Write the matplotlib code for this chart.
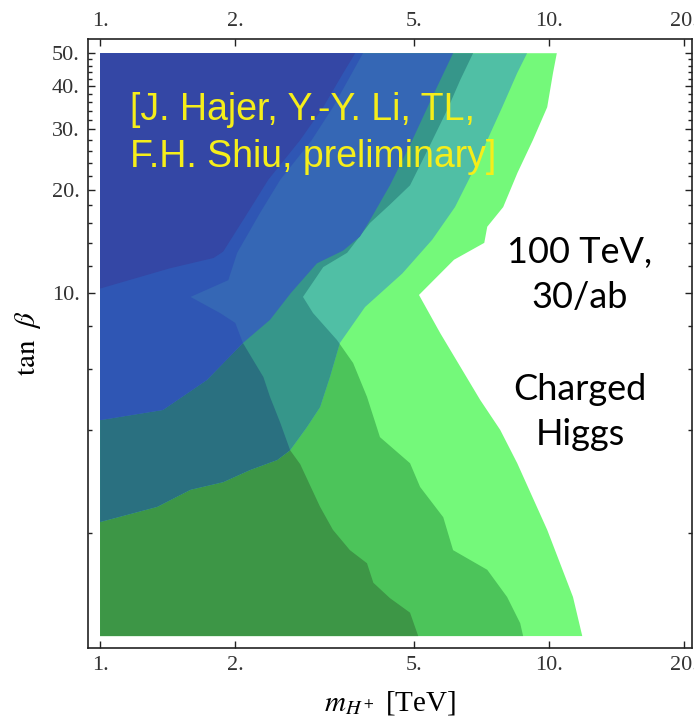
import matplotlib
matplotlib.use("Agg")
import matplotlib.pyplot as plt
from matplotlib.ticker import FixedLocator, NullFormatter, NullLocator

# contour boundaries, (m_H+ [TeV], tan beta), top to bottom
# outer edge of the green family (white beyond it)
g1_m = [10.4, 10.2, 9.9, 9.2, 8.5, 7.9, 7.28, 7.17, 6.14, 5.13, 5.72, 7.02, 7.78, 8.49, 9.9, 11.3, 11.85]
g1_t = [50, 43.8, 34.8, 27.9, 22.4, 17.8, 15.6, 14.0, 12.5, 9.87, 7.64, 4.88, 3.99, 3.19, 2.04, 1.30, 1.0]
# middle green level
g2_m = [6.77, 6.34, 5.93, 5.43, 4.90, 4.42, 3.99, 3.55, 3.14, 2.83, 2.98, 3.37, 3.66, 3.93, 4.20, 4.90,
        5.16, 5.81, 6.11, 7.28, 8.06, 8.62, 8.75]
g2_t = [50, 41.8, 34.2, 27.0, 20.6, 18.1, 16.0, 13.1, 11.9, 9.74, 8.74, 7.29, 6.25, 4.98, 3.80, 3.19,
        2.72, 2.22, 1.78, 1.56, 1.30, 1.09, 1.0]
# inner green level (right edge)
g3_m = [2.08, 2.31, 2.39, 2.52, 2.65, 2.79, 3.09, 3.30, 3.60, 3.93, 4.06, 4.42, 4.90, 5.11]
g3_t = [7.15, 5.69, 4.98, 4.18, 3.48, 3.17, 2.38, 2.04, 1.78, 1.63, 1.43, 1.29, 1.17, 1.0]
# upper-left edge of the green family
edge_m = [6.11, 5.52, 4.90, 4.42, 3.99, 3.79, 3.48, 3.04, 2.66, 2.39, 2.08, 1.73, 1.38, 1.0]
edge_t = [50, 37.8, 27.0, 20.6, 16.3, 14.6, 13.3, 12.2, 10.0, 8.35, 7.15, 5.58, 4.56, 4.26]
# blue family: outer, middle, inner levels
b1_m = [8.93, 8.49, 7.86, 7.28, 6.74, 6.17, 5.49, 4.71, 3.89, 3.42, 3.25, 3.09, 2.89, 2.65, 2.48,
        2.16, 1.88, 1.59, 1.34, 1.0]
b1_t = [50, 43.8, 34.8, 27.9, 22.4, 17.8, 14.3, 11.4, 9.10, 7.15, 5.69, 4.65, 4.07, 3.48, 3.26,
        3.05, 2.81, 2.67, 2.38, 2.15]
b2_m = [3.85, 3.64, 3.30, 2.96, 2.52, 2.27, 2.02, 1.93, 1.59, 1.85, 2.00, 2.08]
b2_t = [50, 43.8, 34.8, 27.9, 21.4, 17.1, 13.1, 10.9, 9.74, 8.74, 8.18, 7.15]
b3_m = [3.70, 3.48, 3.14, 2.79, 2.37, 2.13, 1.88, 1.79, 1.43, 1.0]
b3_t = [50, 43.8, 34.8, 27.9, 21.4, 17.1, 13.2, 12.65, 11.8, 10.3]

m_min, t_min, t_max = 1.0, 1.0, 50.0

x_ticks = [1, 2, 5, 10, 20]
x_labels = ["1.", "2.", "5.", "10.", "20."]
y_ticks = [10, 20, 30, 40, 50]
y_labels = ["10.", "20.", "30.", "40.", "50."]
y_minor = [2, 4, 6, 8, 12, 14, 16, 18, 22, 24, 26, 28, 32, 34, 36, 38, 42, 44, 46, 48]

plt.rcParams["font.family"] = "serif"
plt.rcParams["font.serif"] = ["Liberation Serif", "DejaVu Serif"]
plt.rcParams["mathtext.fontset"] = "stix"

fig = plt.figure(figsize=(6.94, 7.22), dpi=100)
ax = fig.add_axes([88 / 694, 1 - 648 / 722, 604 / 694, 609 / 722])
ax.set_xscale("log")
ax.set_yscale("log")
ax.set_xlim(0.94, 20.8)
ax.set_ylim(0.923, 55.0)

# polygons
g1_poly = ([m_min] + g1_m + [m_min], [t_max] + g1_t + [t_min])
g2_poly = ([m_min] + g2_m + [m_min], [t_max] + g2_t + [t_min])
g3_poly = ([m_min] + edge_m[-1:-5:-1] + g3_m[1:], [t_min] + edge_t[-1:-5:-1] + g3_t[1:])
blue_poly = ([m_min] + edge_m, [t_max] + edge_t)
b2_poly = ([m_min] + b2_m + edge_m[-3:], [t_max] + b2_t + edge_t[-3:])
b3_poly = ([m_min] + b3_m, [t_max] + b3_t)
b1_poly = ([m_min] + b1_m, [t_max] + b1_t)

greens = ["#74f97a", "#4cc45a", "#3d9646"]
teals = ["#50bfa5", "#36968a", "#2a7080"]

for poly, c in zip([g1_poly, g2_poly, g3_poly], greens):
    ax.fill(*poly, color=c, lw=0)

clip = ax.fill(*b1_poly, facecolor="none", edgecolor="none")[0]
for poly, c in zip([g1_poly, g2_poly, g3_poly], teals):
    p = ax.fill(*poly, color=c, lw=0)[0]
    p.set_clip_path(clip)

ax.fill(*blue_poly, color="#3567b5", lw=0)
ax.fill(*b2_poly, color="#2f56b4", lw=0)
ax.fill(*b3_poly, color="#3447a5", lw=0)

# axes
ax.xaxis.set_major_locator(FixedLocator(x_ticks))
ax.xaxis.set_minor_locator(NullLocator())
ax.set_xticklabels(x_labels)
ax.yaxis.set_major_locator(FixedLocator(y_ticks))
ax.set_yticklabels(y_labels)
ax.yaxis.set_minor_locator(FixedLocator(y_minor))
ax.yaxis.set_minor_formatter(NullFormatter())
ax.tick_params(which="both", direction="in", top=True, right=True, labeltop=True,
               labelsize=16, labelcolor="#333333", color="#222222", width=1)
ax.tick_params(which="major", length=5)
ax.tick_params(which="minor", length=3)
ax.tick_params(axis="x", pad=6)
ax.tick_params(axis="y", pad=6)
for s in ax.spines.values():
    s.set_color("#222222")
    s.set_linewidth(1.2)

ax.set_xlabel(r"$m_{H^+}$ [TeV]", fontsize=21, labelpad=10)
ax.set_ylabel(r"$\tan\;\,\beta$", fontsize=21, labelpad=6)

fig.text(130 / 694, 1 - 167 / 722, "[J. Hajer, Y.-Y. Li, TL,\nF.H. Shiu, preliminary]",
         color="#f5ee1a", fontsize=27, family="Liberation Sans", va="baseline", ha="left",
         linespacing=1.4)
fig.text(580 / 694, 1 - 308 / 722, "100 TeV,\n30/ab", color="black", fontsize=26,
         family="Lato", va="baseline", ha="center", linespacing=1.45)
fig.text(580 / 694, 1 - 445 / 722, "Charged\nHiggs", color="black", fontsize=26,
         family="Lato", va="baseline", ha="center", linespacing=1.45)

fig.savefig("out.png", dpi=100)
